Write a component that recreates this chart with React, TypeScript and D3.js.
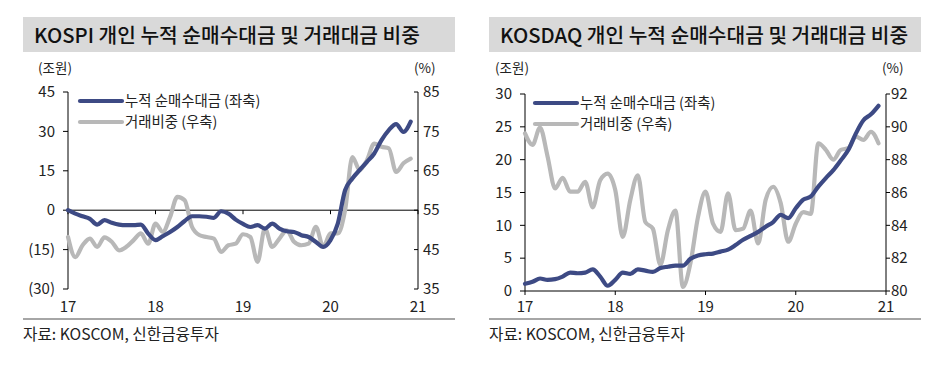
import React from 'react';
import * as d3 from 'd3';

// monthly points, Jan 2017 .. Dec 2020
const kospiNetBuy = [
  0, -1.3, -2.3, -3.3, -5.5, -3.8, -4.8, -5.5, -5.7, -5.7, -5.5, -8.9,
  -11.4, -9.9, -8.3, -6.4, -4.1, -2.3, -2.3, -2.5, -2.9, -0.4, -1.3, -3.6,
  -5.2, -6.4, -5.7, -7, -5.1, -7, -8, -8.3, -9.5, -10.2, -12.1, -14,
  -11.4, -5.1, 7.6, 12.1, 15.3, 18.4, 21.6, 26.7, 30.5, 32.8, 29.8, 33.7,
];
const kospiShare = [
  48.2, 43.1, 46.1, 47.8, 45.7, 48.1, 47, 44.8, 45.7, 47.4, 49.1, 46.5,
  51.6, 49.5, 53.3, 58.4, 57.5, 50.8, 48.7, 48.2, 47.8, 44.4, 46.1, 46.5,
  48.9, 48.2, 41.9, 50.4, 45.7, 47.8, 49.9, 47, 46.1, 46.5, 50.8, 45.7,
  49.1, 49.1, 55, 68.5, 65.2, 67.7, 71.9, 71.1, 70.7, 64.7, 66.9, 68.1,
];
const kosdaqNetBuy = [
  1.1, 1.4, 1.9, 1.7, 1.8, 2.2, 2.8, 2.7, 2.8, 3.3, 2.2, 0.8,
  1.7, 2.8, 2.6, 3.3, 3.1, 2.9, 3.5, 3.7, 3.85, 3.85, 4.9, 5.4,
  5.6, 5.7, 6.0, 6.3, 7.0, 7.8, 8.4, 9.0, 9.8, 10.5, 11.6, 11.1,
  12.6, 13.9, 14.4, 15.9, 17.2, 18.4, 19.9, 21.5, 24.0, 26.0, 26.9, 28.2,
];
const kosdaqShare = [
  89.6, 88.9, 89.95, 88.2, 86.25, 86.9, 86.05, 86.05, 86.65, 85.1, 86.75, 87.15,
  86.15, 83.3, 85.55, 87.05, 84.2, 83.8, 81.6, 83.7, 84.9, 80.25, 81.7, 84.5,
  86.05, 84.1, 83.6, 85.95, 83.7, 83.8, 84.9, 82.9, 85.55, 86.35, 85.35, 83.0,
  84.1, 84.8, 84.7, 89.0, 88.6, 88.0, 88.6, 88.7, 89.4, 89.2, 89.7, 89.0,
];

const yearTicks = [17, 18, 19, 20, 21];
const kospiLeftTicks = [45, 30, 15, 0, -15, -30];
const kospiRightTicks = [85, 75, 65, 55, 45, 35];
const kosdaqLeftTicks = [30, 25, 20, 15, 10, 5, 0];
const kosdaqRightTicks = [92, 90, 88, 86, 84, 82, 80];

const legendNames = ['누적 순매수대금 (좌축)', '거래비중 (우축)'];
const source = '자료: KOSCOM, 신한금융투자';

const BLUE = '#3d4a84';
const GRAY = '#b8b8b8';
const FONT = '"Noto Sans CJK KR", "Noto Sans", sans-serif';

const fmt = (v: number) => (v < 0 ? `(${Math.abs(v)})` : `${v}`);

interface PanelProps {
  title: string;
  bandX: [number, number];
  x0: number;
  x1: number;
  top: number;
  bottom: number;
  leftDomain: [number, number];
  rightDomain: [number, number];
  leftTicks: number[];
  rightTicks: number[];
  blue: number[];
  gray: number[];
  axisAt: number;
  legendX: number;
  legendY: number;
  rightTickInside: boolean;
}

const Panel: React.FC<PanelProps> = (p) => {
  const x = d3.scaleLinear().domain([17, 21]).range([p.x0, p.x1]);
  const yl = d3.scaleLinear().domain(p.leftDomain).range([p.bottom, p.top]);
  const yr = d3.scaleLinear().domain(p.rightDomain).range([p.bottom, p.top]);
  const px = (i: number) => x(17 + i / 12);

  const lineL = d3
    .line<number>()
    .x((_, i) => px(i))
    .y((d) => yl(d))
    .curve(d3.curveMonotoneX);
  const lineR = d3
    .line<number>()
    .x((_, i) => px(i))
    .y((d) => yr(d))
    .curve(d3.curveMonotoneX);

  const axisY = yl(p.axisAt);

  return (
    <g fontFamily={FONT}>
      <rect x={p.bandX[0]} y={17} width={p.bandX[1] - p.bandX[0]} height={35} fill="#d9d9d9" />
      <text x={p.bandX[0] + 11} y={43} fontSize={20.3} fontWeight={500} fill="#111">
        {p.title}
      </text>

      <text x={p.x0 - 30} y={73} fontSize={13.5} fill="#222">(조원)</text>
      <text x={p.x1 - 4} y={73} fontSize={13.5} fill="#222">(%)</text>

      {/* left axis */}
      <line x1={p.x0} x2={p.x0} y1={p.top} y2={p.bottom} stroke="#000" />
      {p.leftTicks.map((t) => (
        <g key={'l' + t}>
          <line x1={p.x0 - 5} x2={p.x0} y1={yl(t)} y2={yl(t)} stroke="#000" />
          <text x={p.x0 - 13} y={yl(t)} dy="0.35em" textAnchor="end" fontSize={15} fill="#222">
            {fmt(t)}
          </text>
        </g>
      ))}

      {/* right axis */}
      <line x1={p.x1} x2={p.x1} y1={p.top} y2={p.bottom} stroke="#000" />
      {p.rightTicks.map((t) => (
        <g key={'r' + t}>
          <line
            x1={p.rightTickInside ? p.x1 - 4 : p.x1}
            x2={p.rightTickInside ? p.x1 : p.x1 + 4}
            y1={yr(t)}
            y2={yr(t)}
            stroke="#000"
          />
          <text x={p.x1 + 5} y={yr(t)} dy="0.35em" fontSize={15} fill="#222">
            {t}
          </text>
        </g>
      ))}

      {/* x axis */}
      <line x1={p.x0} x2={p.x1} y1={axisY} y2={axisY} stroke="#000" />
      {yearTicks.map((t) => (
        <g key={'x' + t}>
          <line x1={x(t)} x2={x(t)} y1={axisY} y2={axisY + 4} stroke="#000" />
          <text x={x(t)} y={307} dy="0.35em" textAnchor="middle" fontSize={15} fill="#222">
            {t}
          </text>
        </g>
      ))}

      <path d={lineR(p.gray) || ''} fill="none" stroke={GRAY} strokeWidth={4.2} strokeLinejoin="round" strokeLinecap="round" />
      <path d={lineL(p.blue) || ''} fill="none" stroke={BLUE} strokeWidth={4.2} strokeLinejoin="round" strokeLinecap="round" />

      {/* legend */}
      {[BLUE, GRAY].map((c, i) => (
        <g key={c}>
          <line
            x1={p.legendX}
            x2={p.legendX + 42}
            y1={p.legendY + i * 21}
            y2={p.legendY + i * 21}
            stroke={c}
            strokeWidth={4.2}
            strokeLinecap="round"
          />
          <text x={p.legendX + 45} y={p.legendY + i * 21} dy="0.35em" fontSize={14.4} fill="#222">
            {legendNames[i]}
          </text>
        </g>
      ))}

      <line x1={p.bandX[0]} x2={p.bandX[1]} y1={319} y2={319} stroke="#a6a6a6" strokeWidth={2} />
      <text x={p.bandX[0]} y={335} dy="0.35em" fontSize={15.7} fill="#222">
        {source}
      </text>
    </g>
  );
};

export default function App() {
  return (
    <svg
      width={945}
      height={365}
      style={{ position: 'absolute', left: 0, top: 0, background: '#fff' }}
    >
      <rect width={945} height={365} fill="#fff" />
      <Panel
        title="KOSPI 개인 누적 순매수대금 및 거래대금 비중"
        bandX={[23, 455]}
        x0={68}
        x1={418}
        top={92}
        bottom={289}
        leftDomain={[-30, 45]}
        rightDomain={[35, 85]}
        leftTicks={kospiLeftTicks}
        rightTicks={kospiRightTicks}
        blue={kospiNetBuy}
        gray={kospiShare}
        axisAt={0}
        legendX={80}
        legendY={101}
        rightTickInside={true}
      />
      <Panel
        title="KOSDAQ 개인 누적 순매수대금 및 거래대금 비중"
        bandX={[489, 921]}
        x0={525}
        x1={886}
        top={94}
        bottom={291}
        leftDomain={[0, 30]}
        rightDomain={[80, 92]}
        leftTicks={kosdaqLeftTicks}
        rightTicks={kosdaqRightTicks}
        blue={kosdaqNetBuy}
        gray={kosdaqShare}
        axisAt={0}
        legendX={535}
        legendY={103}
        rightTickInside={false}
      />
    </svg>
  );
}
